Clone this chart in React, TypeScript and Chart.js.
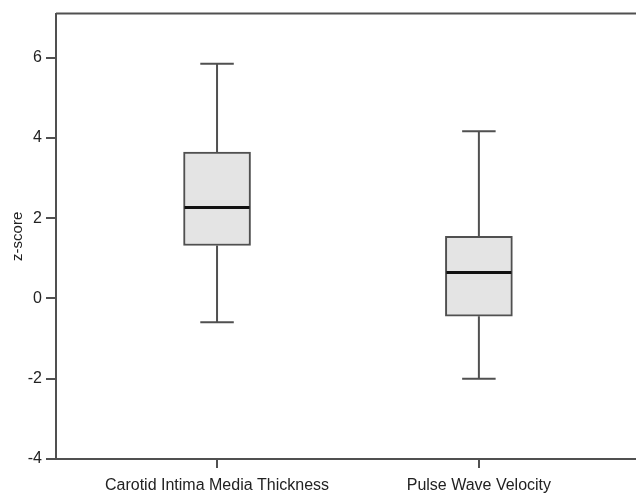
import React, { useEffect, useRef } from "react";
import { Chart, registerables } from "chart.js";

Chart.register(...registerables);

const categories = ["Carotid Intima Media Thickness", "Pulse Wave Velocity"];
const mins = [-0.59, -2.0];
const q1s = [1.32, -0.44];
const medians = [2.27, 0.65];
const q3s = [3.65, 1.55];
const maxs = [5.85, 4.17];

const yTicks = [-4, -2, 0, 2, 4, 6];

const LINE = "#505050";
const FONT = "'Liberation Sans', Arial, sans-serif";

const boxPlotPlugin = {
  id: "boxPlotExtras",
  afterDatasetsDraw(chart: any) {
    const ctx = chart.ctx;
    const ys = chart.scales.y;
    const xs = chart.scales.x;
    const meta = chart.getDatasetMeta(0);
    const area = chart.chartArea;
    ctx.save();
    // top frame line
    ctx.strokeStyle = LINE;
    ctx.lineWidth = 2;
    ctx.beginPath();
    ctx.moveTo(area.left, area.top);
    ctx.lineTo(area.right, area.top);
    ctx.stroke();
    categories.forEach((_, i) => {
      const el = meta.data[i];
      const x = xs.getPixelForValue(i + 1);
      const w = el.width;
      const half = w / 2;
      const cap = w / 4;
      const pMin = ys.getPixelForValue(mins[i]);
      const pQ1 = ys.getPixelForValue(q1s[i]);
      const pMed = ys.getPixelForValue(medians[i]);
      const pQ3 = ys.getPixelForValue(q3s[i]);
      const pMax = ys.getPixelForValue(maxs[i]);
      ctx.strokeStyle = LINE;
      ctx.lineWidth = 2;
      ctx.beginPath();
      // lower whisker
      ctx.moveTo(x, pQ1);
      ctx.lineTo(x, pMin);
      ctx.moveTo(x - cap, pMin);
      ctx.lineTo(x + cap, pMin);
      // upper whisker
      ctx.moveTo(x, pQ3);
      ctx.lineTo(x, pMax);
      ctx.moveTo(x - cap, pMax);
      ctx.lineTo(x + cap, pMax);
      ctx.stroke();
      // median
      ctx.strokeStyle = "#111";
      ctx.lineWidth = 3;
      ctx.beginPath();
      ctx.moveTo(x - half + 1, pMed);
      ctx.lineTo(x + half - 1, pMed);
      ctx.stroke();
    });
    ctx.restore();
  },
};

export default function App() {
  const ref = useRef<HTMLCanvasElement>(null);
  useEffect(() => {
    if (!ref.current) return;
    const chart = new Chart(ref.current, {
      type: "bar",
      data: {
        datasets: [
          {
            data: categories.map((_, i) => ({ x: i + 1, y: [q1s[i], q3s[i]] })) as any,
            backgroundColor: "#e4e4e4",
            borderColor: LINE,
            borderWidth: 2,
            borderSkipped: false,
            barThickness: 67,
          },
        ],
      },
      options: {
        animation: false,
        responsive: false,
        devicePixelRatio: 1,
        layout: { padding: { top: 11, left: 0, right: 0, bottom: 0 } },
        plugins: { legend: { display: false }, tooltip: { enabled: false } },
        scales: {
          x: {
            type: "linear",
            min: 0.385,
            max: 2.6,
            offset: false,
            afterBuildTicks: (scale: any) => {
              scale.ticks = categories.map((_, i) => ({ value: i + 1 }));
            },
            afterFit: (scale: any) => {
              scale.height = 37;
            },
            ticks: {
              autoSkip: false,
              maxRotation: 0,
              padding: 8,
              color: "#222",
              font: { family: FONT, size: 16 },
              callback: (v: any) => categories[Math.round(Number(v)) - 1] ?? "",
            },
            grid: {
              display: true,
              offset: false,
              drawOnChartArea: false,
              drawTicks: true,
              tickLength: 9,
              color: LINE,
              lineWidth: 2,
            },
            border: { display: true, color: LINE, width: 2 },
          },
          y: {
            type: "linear",
            min: -4,
            max: 7.1,
            afterBuildTicks: (scale: any) => {
              scale.ticks = yTicks.map((v) => ({ value: v }));
            },
            afterFit: (scale: any) => {
              scale.width = 56;
            },
            ticks: {
              padding: 4,
              color: "#222",
              font: { family: FONT, size: 16 },
            },
            grid: {
              display: true,
              drawOnChartArea: false,
              drawTicks: true,
              tickLength: 10,
              color: LINE,
              lineWidth: 2,
            },
            border: { display: true, color: LINE, width: 2 },
            title: {
              display: true,
              text: "z-score",
              color: "#222",
              font: { family: FONT, size: 15 },
              padding: { top: 9, bottom: 0 },
            },
          },
        },
      },
      plugins: [boxPlotPlugin],
    });
    return () => chart.destroy();
  }, []);
  return (
    <div style={{ position: "fixed", left: 0, top: 0, width: 636, height: 496, background: "#fff" }}>
      <canvas ref={ref} width={636} height={496} />
    </div>
  );
}
